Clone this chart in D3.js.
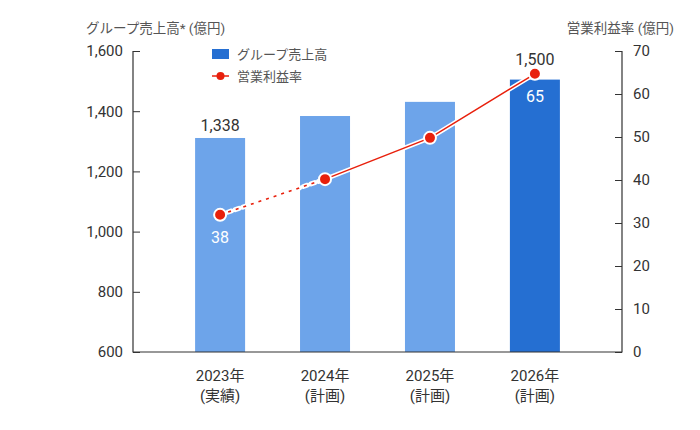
<!DOCTYPE html>
<html>
<head>
<meta charset="utf-8">
<script src="https://cdn.jsdelivr.net/npm/d3@7"></script>
<style>
  body { margin: 0; background: #fff; }
  text { font-family: Roboto, "Noto Sans CJK JP", sans-serif; }
</style>
</head>
<body>
<script>
// Chart data
const years = ["2023年", "2024年", "2025年", "2026年"];
const yearNotes = ["(実績)", "(計画)", "(計画)", "(計画)"];
const sales = [1311, 1384, 1431, 1505];
const salesLabels = ["1,338", "", "", "1,500"];
const margin = [31.9, 40.2, 49.8, 64.7];
const marginLabels = ["38", "", "", "65"];
const leftTicks = [600, 800, 1000, 1200, 1400, 1600];
const rightTicks = [0, 10, 20, 30, 40, 50, 60, 70];

const width = 700, height = 430;
const plot = { left: 133, right: 622, top: 51, bottom: 352 };

const svg = d3.select("body").append("svg")
    .attr("width", width)
    .attr("height", height);

// Scales
const x = d3.scalePoint().domain(years)
    .range([plot.left, plot.right]).padding(0.83);
const yL = d3.scaleLinear().domain([600, 1600]).range([plot.bottom, plot.top]);
const yR = d3.scaleLinear().domain([0, 70]).range([plot.bottom, plot.top]);
const barW = 50;

// Bars
svg.append("g").selectAll("rect")
    .data(years)
    .join("rect")
    .attr("x", d => x(d) - barW / 2)
    .attr("width", barW)
    .attr("y", (d, i) => yL(sales[i]))
    .attr("height", (d, i) => yL(600) - yL(sales[i]))
    .attr("fill", (d, i) => i === 3 ? "#256fd2" : "#6da4ea");

// Axes
const axisColor = "#333";
const leftAxis = svg.append("g")
    .attr("transform", `translate(${plot.left},0)`)
    .call(d3.axisRight(yL).tickValues(leftTicks).tickSize(7)
        .tickFormat(d3.format(",")));
leftAxis.selectAll("text").attr("x", -10).attr("text-anchor", "end");

const rightAxis = svg.append("g")
    .attr("transform", `translate(${plot.right},0)`)
    .call(d3.axisLeft(yR).tickValues(rightTicks).tickSize(7));
rightAxis.selectAll("text").attr("x", 11).attr("text-anchor", "start");

[leftAxis, rightAxis].forEach(a => {
    a.select(".domain").remove();
    a.selectAll("line").attr("stroke", axisColor);
    a.selectAll("text").attr("fill", "#333").style("font-size", "15px");
});

// Axis lines
svg.append("path")
    .attr("d", `M${plot.left},${plot.top}V${plot.bottom}H${plot.right}V${plot.top}`)
    .attr("fill", "none")
    .attr("stroke", axisColor)
    .attr("stroke-width", 1.2);

// X labels
const xl = svg.append("g").selectAll("g")
    .data(years)
    .join("g")
    .attr("transform", d => `translate(${x(d)},0)`);
xl.append("text").attr("y", 381).attr("text-anchor", "middle")
    .style("font-size", "15px").attr("fill", "#333").text(d => d);
xl.append("text").attr("y", 401).attr("text-anchor", "middle")
    .style("font-size", "15px").attr("fill", "#333")
    .text((d, i) => yearNotes[i]);

// Margin line
const pts = years.map((d, i) => [x(d), yR(margin[i])]);
const red = "#e8200c";
const seg = (a, b) => `M${a[0]},${a[1]}L${b[0]},${b[1]}`;
const solid = seg(pts[1], pts[2]) + seg(pts[2], pts[3]).replace("M", "L");

// white halo under the line (dashed part: pill-shaped halos around each dash)
svg.append("path")
    .attr("d", seg(pts[0], pts[1]))
    .attr("stroke", "#fff").attr("stroke-width", 5)
    .attr("stroke-linecap", "round")
    .attr("stroke-dasharray", "4,4").attr("stroke-dashoffset", 0)
    .attr("fill", "none");
svg.append("path")
    .attr("d", solid)
    .attr("stroke", "#fff").attr("stroke-width", 4.5).attr("fill", "none");
svg.append("path")
    .attr("d", seg(pts[0], pts[1]))
    .attr("stroke", red).attr("stroke-width", 1.6)
    .attr("stroke-dasharray", "3,5").attr("stroke-dashoffset", -0.5)
    .attr("fill", "none");
svg.append("path")
    .attr("d", solid)
    .attr("stroke", red).attr("stroke-width", 1.5).attr("fill", "none");

svg.append("g").selectAll("circle")
    .data(pts)
    .join("circle")
    .attr("cx", d => d[0]).attr("cy", d => d[1])
    .attr("r", 6)
    .attr("fill", red)
    .attr("stroke", "#fff").attr("stroke-width", 2);

// Value labels (kept above both the bar and the marker)
svg.append("g").selectAll("text")
    .data(years)
    .join("text")
    .attr("x", d => x(d))
    .attr("y", (d, i) => Math.min(yL(sales[i]) - 7, yR(margin[i]) - 9))
    .attr("text-anchor", "middle")
    .style("font-size", "16px").attr("fill", "#333")
    .text((d, i) => salesLabels[i]);

svg.append("g").selectAll("text")
    .data(years)
    .join("text")
    .attr("x", d => x(d))
    .attr("y", (d, i) => yR(margin[i]) + 28)
    .attr("text-anchor", "middle")
    .style("font-size", "16px").attr("fill", "#fff")
    .text((d, i) => marginLabels[i]);

// Axis titles
svg.append("text").attr("x", 86).attr("y", 33)
    .style("font-size", "13.5px").attr("fill", "#555")
    .text("グループ売上高* (億円)");
svg.append("text").attr("x", 674).attr("y", 33)
    .attr("text-anchor", "end")
    .style("font-size", "13.5px").attr("fill", "#555")
    .text("営業利益率 (億円)");

// Legend
const lg = svg.append("g");
lg.append("rect").attr("x", 212).attr("y", 49).attr("width", 17).attr("height", 10)
    .attr("fill", "#256fd2");
lg.append("text").attr("x", 237).attr("y", 59)
    .style("font-size", "13px").attr("fill", "#555").text("グループ売上高");
lg.append("line").attr("x1", 212).attr("x2", 229).attr("y1", 76).attr("y2", 76)
    .attr("stroke", red).attr("stroke-width", 1.5);
lg.append("circle").attr("cx", 220.5).attr("cy", 76).attr("r", 4).attr("fill", red);
lg.append("text").attr("x", 237).attr("y", 81)
    .style("font-size", "13px").attr("fill", "#555").text("営業利益率");
</script>
</body>
</html>
